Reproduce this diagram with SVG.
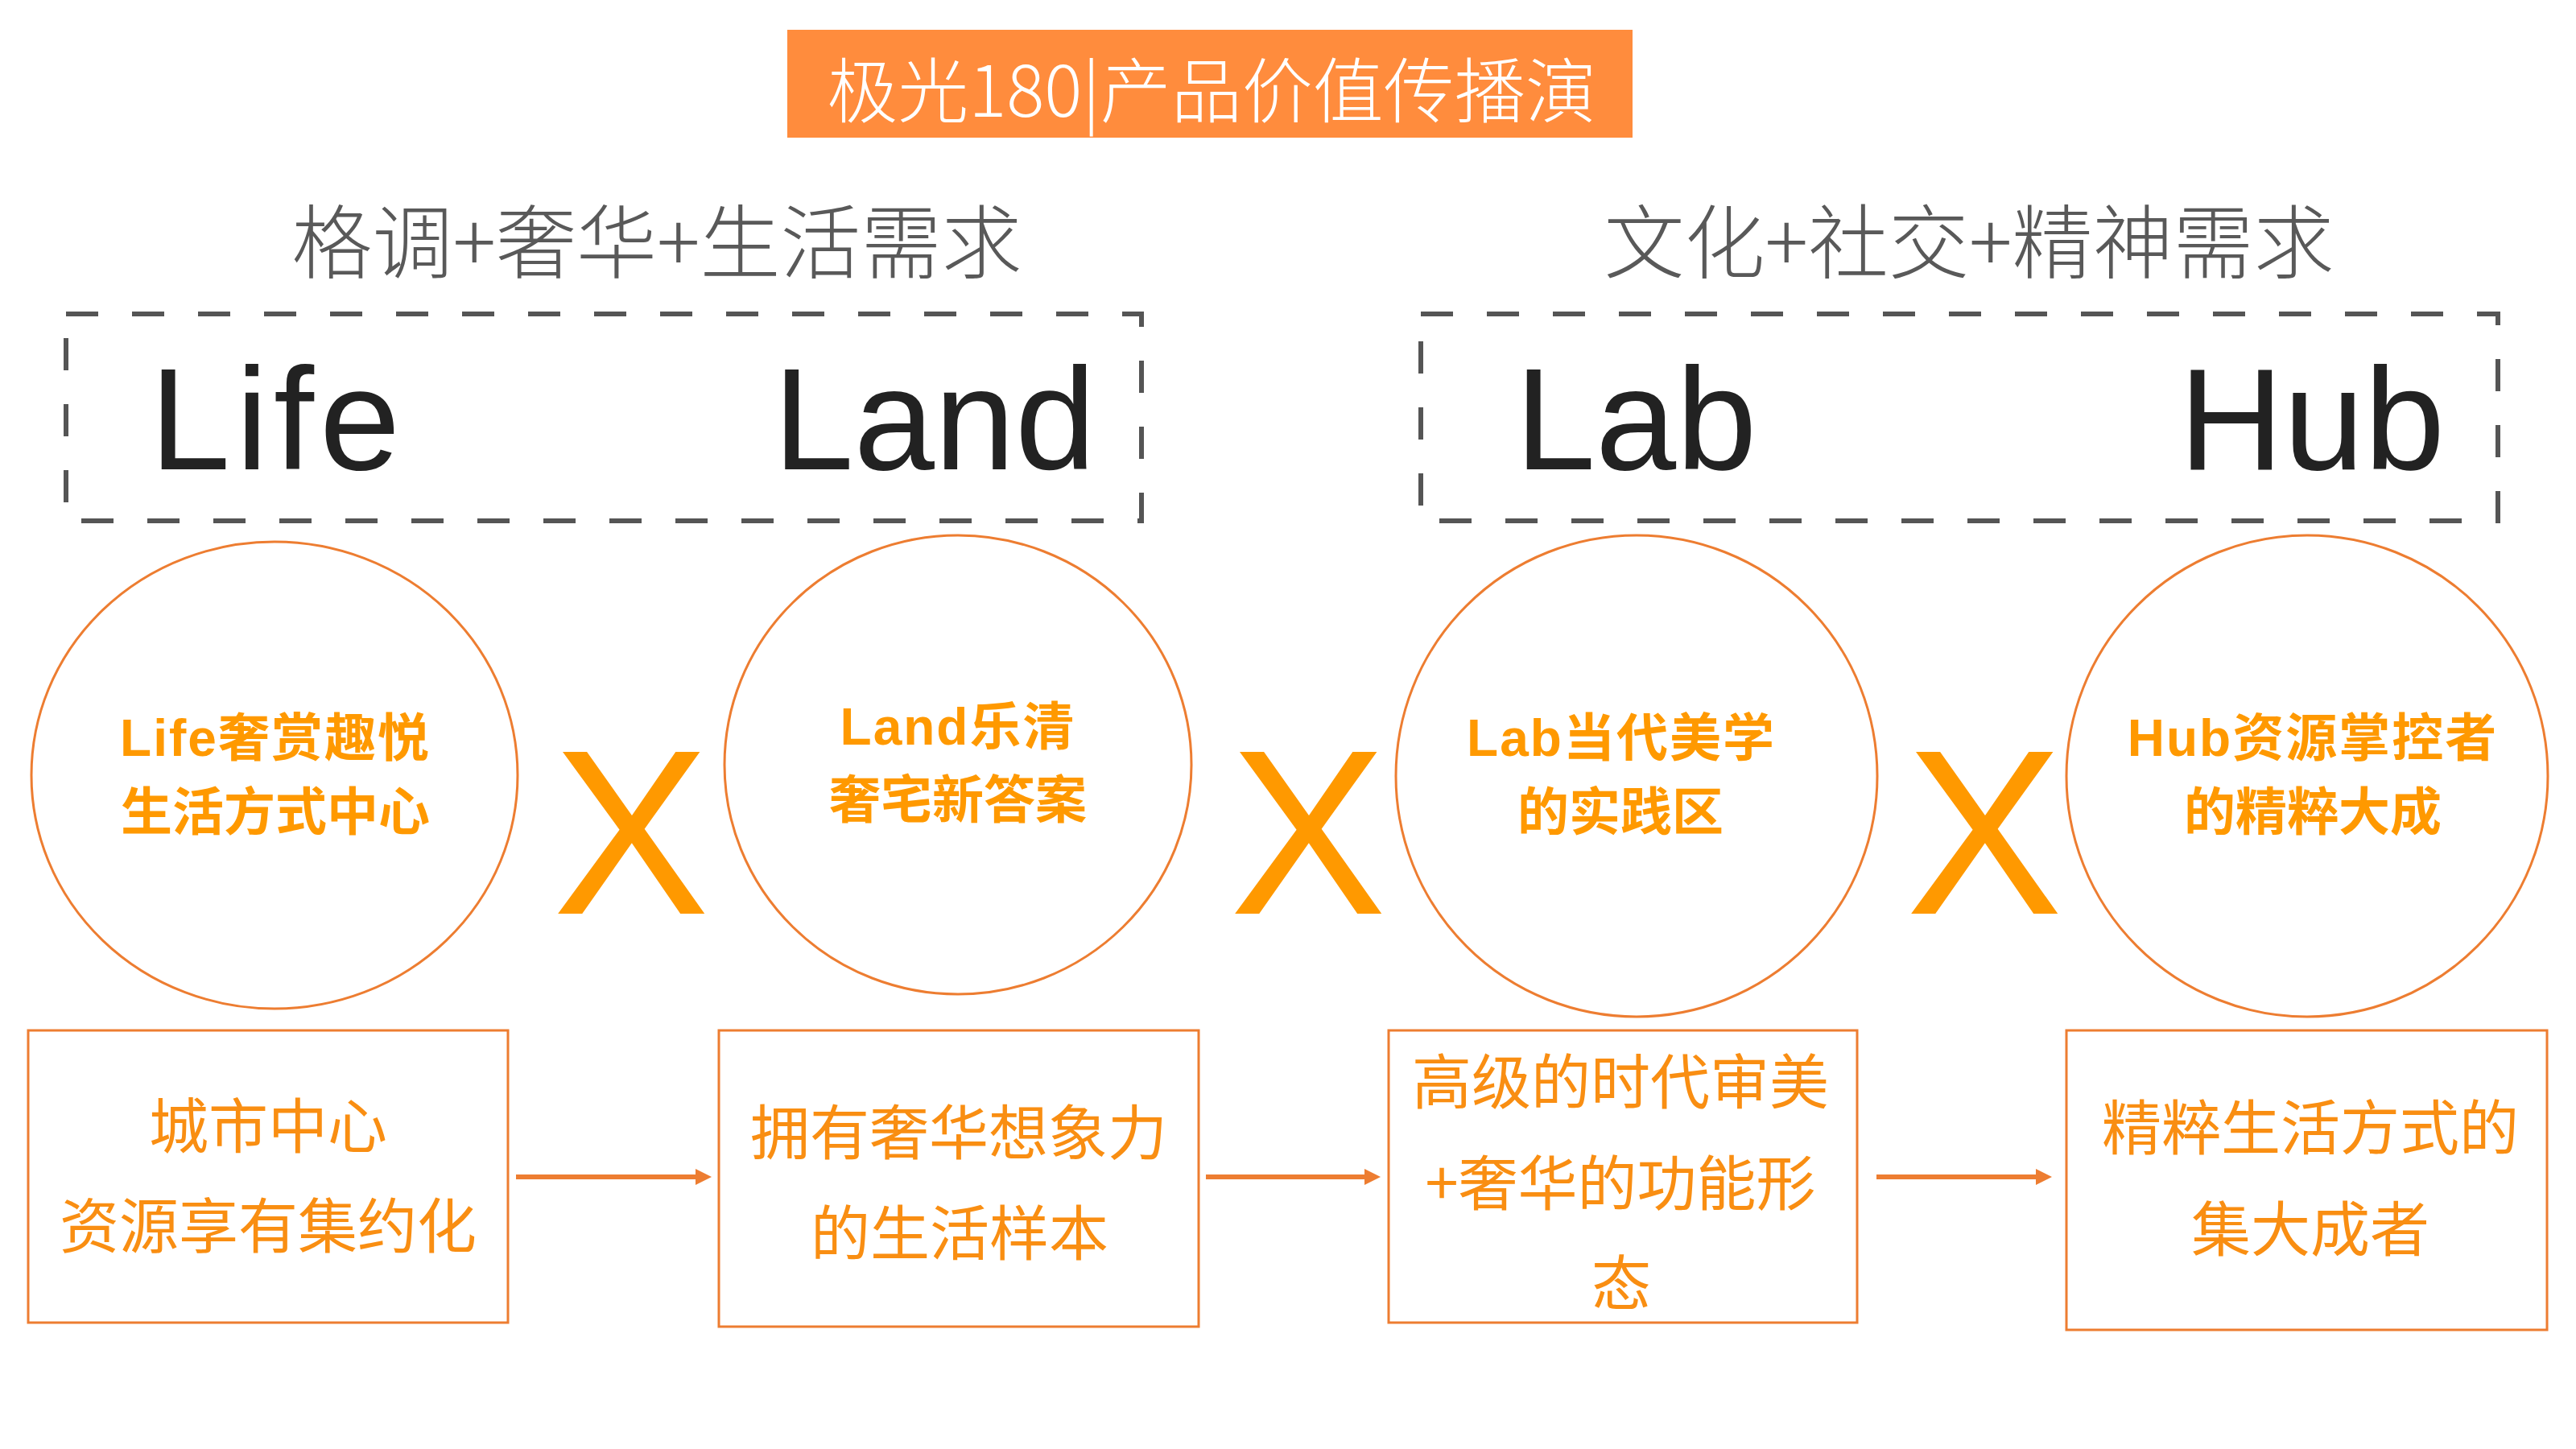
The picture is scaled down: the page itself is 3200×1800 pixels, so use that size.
<svg xmlns="http://www.w3.org/2000/svg" width="3200" height="1800" viewBox="0 0 3200 1800">
<defs>
<style>
.title{font-family:"Noto Sans CJK SC","Liberation Sans",sans-serif;font-size:88px;font-weight:300;fill:#ffffff}
.head{font-family:"Noto Sans CJK SC","Liberation Sans",sans-serif;font-size:100px;font-weight:300;fill:#595959}
.big{font-family:"Liberation Sans",Arial,sans-serif;font-size:180px;fill:#222222}
.dash{fill:none;stroke:#555555;stroke-width:6;stroke-dasharray:40 42}
.circ{fill:none;stroke:#ED7D31;stroke-width:3}
.ctext{font-family:"Liberation Sans","Noto Sans CJK SC",sans-serif;font-size:64px;font-weight:700;fill:#FF9900;text-anchor:middle}
.x{font-family:"Liberation Sans",Arial,sans-serif;font-size:292px;fill:#FF9900;text-anchor:middle}
.box{fill:none;stroke:#ED7D31;stroke-width:3}
.btext{font-family:"Noto Sans CJK SC","Liberation Sans",sans-serif;font-size:74px;font-weight:400;fill:#F98E12;text-anchor:middle}
.conn{stroke:#ED7D31;stroke-width:6;fill:none}
</style>
<marker id="arr" markerWidth="20" markerHeight="20" refX="0" refY="10" orient="auto" markerUnits="userSpaceOnUse" viewBox="0 0 20 20">
<path d="M0,0 L20,10 L0,20 Z" fill="#ED7D31"/>
</marker>
</defs>
<rect width="3200" height="1800" fill="#ffffff"/>

<g id="title">
<rect x="978" y="37" width="1050" height="134" fill="#FF8C3D"/>
<text class="title" x="1505" y="145" text-anchor="middle">极光180|产品价值传播演</text>
</g>

<g id="heading-left"><text class="head" x="816" y="338" text-anchor="middle">格调+奢华+生活需求</text></g>
<g id="heading-right"><text class="head" x="2446" y="338" text-anchor="middle">文化+社交+精神需求</text></g>

<g id="group-life-land">
<rect class="dash" x="82" y="390" width="1336" height="257"/>
<text class="big" x="186" y="583" letter-spacing="7">Life</text>
<text class="big" x="1361" y="583" text-anchor="end">Land</text>
</g>
<g id="group-lab-hub">
<rect class="dash" x="1765" y="390" width="1338" height="257"/>
<text class="big" x="1882" y="583">Lab</text>
<text class="big" x="3037" y="583" text-anchor="end">Hub</text>
</g>

<g id="circle-life">
<ellipse class="circ" cx="341" cy="963" rx="302" ry="290"/>
<text class="ctext" x="342" y="939" letter-spacing="2">Life奢赏趣悦</text>
<text class="ctext" x="342" y="1031">生活方式中心</text>
</g>
<g id="circle-land">
<ellipse class="circ" cx="1190" cy="950" rx="290" ry="285"/>
<text class="ctext" x="1190" y="925" letter-spacing="2">Land乐清</text>
<text class="ctext" x="1190" y="1016">奢宅新答案</text>
</g>
<g id="circle-lab">
<ellipse class="circ" cx="2033" cy="964" rx="299" ry="299"/>
<text class="ctext" x="2014" y="939" letter-spacing="2">Lab当代美学</text>
<text class="ctext" x="2013" y="1031">的实践区</text>
</g>
<g id="circle-hub">
<ellipse class="circ" cx="2866" cy="964" rx="299" ry="299"/>
<text class="ctext" x="2873" y="939" letter-spacing="2">Hub资源掌控者</text>
<text class="ctext" x="2873" y="1031">的精粹大成</text>
</g>

<g id="x-marks">
<text class="x" x="784" y="1135">X</text>
<text class="x" x="1625" y="1135">X</text>
<text class="x" x="2465" y="1135">X</text>
</g>

<g id="box-1">
<rect class="box" x="35" y="1280" width="596" height="363"/>
<text class="btext" x="333" y="1426">城市中心</text>
<text class="btext" x="333" y="1550">资源享有集约化</text>
</g>
<g id="box-2">
<rect class="box" x="893" y="1280" width="596" height="368"/>
<text class="btext" x="1191" y="1434">拥有奢华想象力</text>
<text class="btext" x="1192" y="1559">的生活样本</text>
</g>
<g id="box-3">
<rect class="box" x="1725" y="1280" width="582" height="363"/>
<text class="btext" x="2013" y="1371">高级的时代审美</text>
<text class="btext" x="2013" y="1497">+奢华的功能形</text>
<text class="btext" x="2014" y="1621">态</text>
</g>
<g id="box-4">
<rect class="box" x="2567" y="1280" width="597" height="372"/>
<text class="btext" x="2870" y="1428">精粹生活方式的</text>
<text class="btext" x="2870" y="1554">集大成者</text>
</g>

<g id="connectors">
<line class="conn" x1="641" y1="1462" x2="864" y2="1462" marker-end="url(#arr)"/>
<line class="conn" x1="1498" y1="1462" x2="1695" y2="1462" marker-end="url(#arr)"/>
<line class="conn" x1="2331" y1="1462" x2="2529" y2="1462" marker-end="url(#arr)"/>
</g>
</svg>
